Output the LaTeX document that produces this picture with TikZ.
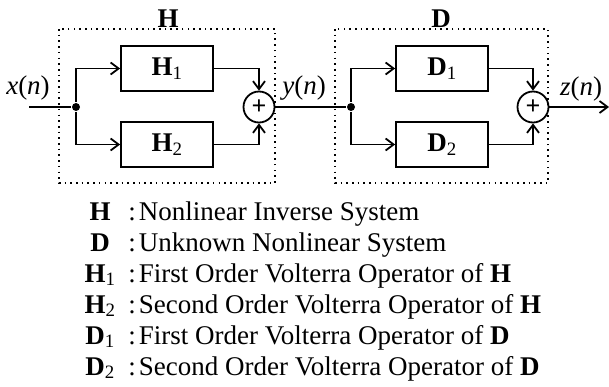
\documentclass[tikz,border=0pt]{standalone}
\usepackage{fontspec}
\setmainfont{Liberation Serif}
\usetikzlibrary{arrows.meta}
\begin{document}
\begin{tikzpicture}[x=1pt, y=-1pt, line width=1.8pt,
    every node/.style={font=\fontsize{27}{31}\selectfont},
    blk/.style={draw, minimum width=92pt, minimum height=45pt},
    sum/.style={draw, circle, minimum size=31pt, inner sep=0pt, font=\fontsize{26}{30}\selectfont\bfseries},
    dot/.style={circle, fill, minimum size=8pt, inner sep=0pt},
    arr/.style={-{Straight Barb[length=8pt,width=12pt]}},
    pointille/.style={line width=1.6pt, dash pattern=on 1.6pt off 4.1pt},
    leg/.style={anchor=base, font=\fontsize{27}{31}\selectfont}]
  \useasboundingbox (0,0) rectangle (609,386);

  % Systeme H
  \draw[pointille] (59,29) rectangle (275,183);
  \node[font=\fontsize{27}{31}\selectfont\bfseries] (th) at (168,19) {H};
  \node[blk] (h1) at (167,68.5) {\textbf{H}\textsubscript{1}};
  \node[blk] (h2) at (167,144.5) {\textbf{H}\textsubscript{2}};
  \node[sum] (sh) at (259,107) {+};
  \node[dot] (jh) at (76,107) {};
  \coordinate (in) at (29,107);
  \node (x) at (28,88) {\textit{x}(\textit{n})};

  % Systeme D
  \draw[pointille] (335,29) rectangle (548,183);
  \node[font=\fontsize{27}{31}\selectfont\bfseries] (td) at (441,19) {D};
  \node[blk] (d1) at (442,68.5) {\textbf{D}\textsubscript{1}};
  \node[blk] (d2) at (442,144.5) {\textbf{D}\textsubscript{2}};
  \node[sum] (sd) at (533,107) {+};
  \node[dot] (jd) at (351,107) {};
  \coordinate (out) at (609,107);
  \node (y) at (304,88) {\textit{y}(\textit{n})};
  \node (z) at (581,89) {\textit{z}(\textit{n})};

  % Liaisons
  \draw (in) -- (jh);
  \draw[arr] (jh) |- (h1.west);
  \draw[arr] (jh) |- (h2.west);
  \draw[arr] (h1.east) -| (sh.north);
  \draw[arr] (h2.east) -| (sh.south);
  \draw (sh.east) -- (jd);
  \draw[arr] (jd) |- (d1.west);
  \draw[arr] (jd) |- (d2.west);
  \draw[arr] (d1.east) -| (sd.north);
  \draw[arr] (d2.east) -| (sd.south);
  \draw[arr] (sd.east) -- (out);

  % Legende
  \node[leg] (lh) at (100,220) {\textbf{H}};
  \node[leg] (ld) at (100,251) {\textbf{D}};
  \node[leg] (lh1) at (100,282) {\textbf{H}\textsubscript{1}};
  \node[leg] (lh2) at (100,313) {\textbf{H}\textsubscript{2}};
  \node[leg] (ld1) at (100,344) {\textbf{D}\textsubscript{1}};
  \node[leg] (ld2) at (100,375) {\textbf{D}\textsubscript{2}};
  \node[leg, anchor=base west, inner sep=0pt] (th1) at (127.5,220) {:\hspace{3pt}Nonlinear Inverse System};
  \node[leg, anchor=base west, inner sep=0pt] (td1) at (127.5,251) {:\hspace{3pt}Unknown Nonlinear System};
  \node[leg, anchor=base west, inner sep=0pt] (th2) at (127.5,282) {:\hspace{3pt}First Order Volterra Operator of \textbf{H}};
  \node[leg, anchor=base west, inner sep=0pt] (th3) at (127.5,313) {:\hspace{3pt}Second Order Volterra Operator of \textbf{H}};
  \node[leg, anchor=base west, inner sep=0pt] (td2) at (127.5,344) {:\hspace{3pt}First Order Volterra Operator of \textbf{D}};
  \node[leg, anchor=base west, inner sep=0pt] (td3) at (127.5,375) {:\hspace{3pt}Second Order Volterra Operator of \textbf{D}};
\end{tikzpicture}
\end{document}
